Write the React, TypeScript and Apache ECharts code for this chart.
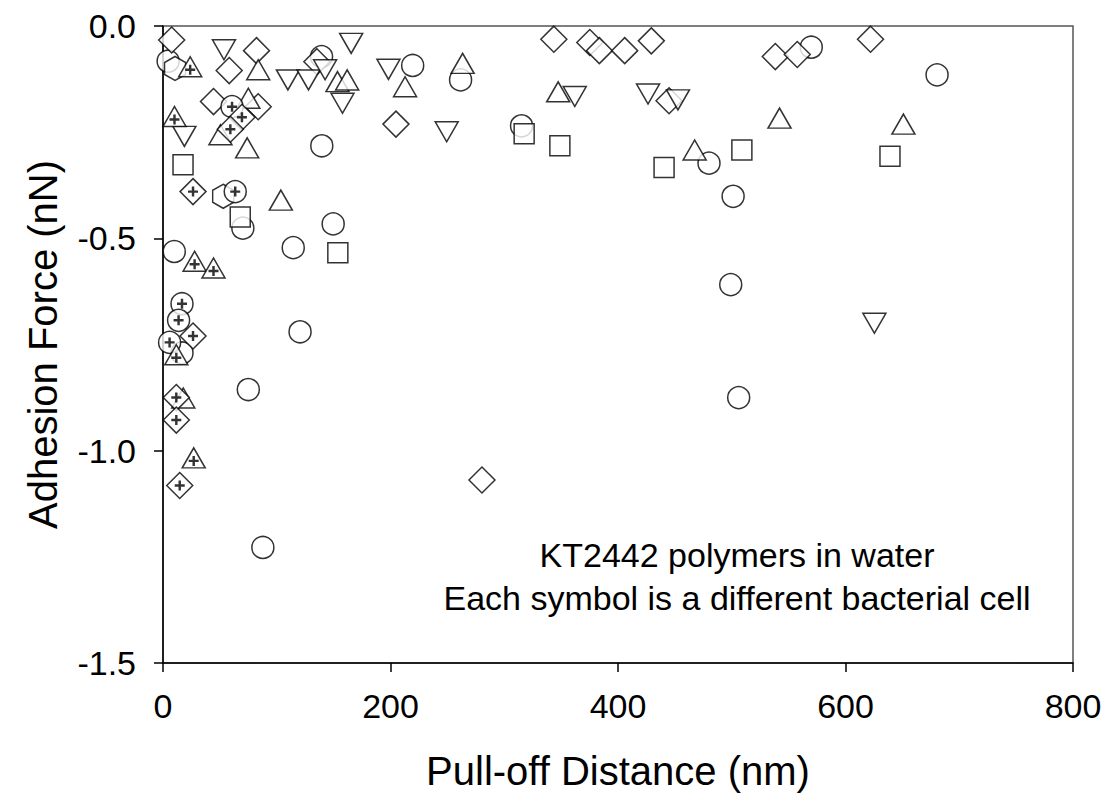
import React, { useEffect, useRef } from "react";
import * as echarts from "echarts";

// Each symbol is a different bacterial cell: [pull-off distance (nm), adhesion force (nN)]
const circleCell: number[][] = [
  [4.5, -0.083], [139.4, -0.072], [219.5, -0.093], [261.6, -0.127], [139.6, -0.282],
  [315.2, -0.235], [480.0, -0.323], [501.2, -0.401], [499.1, -0.609], [506.1, -0.875],
  [569.9, -0.05], [680.5, -0.115], [70.2, -0.476], [9.9, -0.531], [114.5, -0.522],
  [16.7, -0.77], [120.5, -0.72], [75.0, -0.856], [87.8, -1.228], [149.6, -0.466],
];
const diamondCell: number[][] = [
  [7.6, -0.033], [58.2, -0.105], [82.2, -0.058], [44.4, -0.178], [83.7, -0.19],
  [135.3, -0.084], [204.8, -0.231], [280.4, -1.069], [343.6, -0.031], [375.2, -0.039],
  [383.6, -0.058], [405.9, -0.058], [429.3, -0.035], [444.9, -0.176], [538.3, -0.072],
  [557.6, -0.067], [622.0, -0.031],
];
const triangleUpCell: number[][] = [
  [83.7, -0.103], [50.5, -0.256], [74.0, -0.287], [75.0, -0.17], [103.6, -0.41],
  [17.8, -0.876], [153.4, -0.131], [161.9, -0.127], [212.8, -0.143], [263.4, -0.088],
  [347.4, -0.155], [467.4, -0.292], [542.0, -0.217], [650.9, -0.231],
];
const triangleDownCell: number[][] = [
  [53.6, -0.056], [109.8, -0.127], [18.8, -0.26], [127.9, -0.127], [142.5, -0.103],
  [165.4, -0.041], [157.8, -0.182], [198.2, -0.102], [249.4, -0.249], [362.0, -0.166],
  [426.4, -0.16], [452.7, -0.174], [625.4, -0.7],
];
const squareCell: number[][] = [
  [17.6, -0.327], [67.9, -0.45], [153.7, -0.534], [317.5, -0.254], [348.9, -0.282],
  [440.5, -0.333], [508.9, -0.292], [639.1, -0.307],
];
const hexagonCell: number[][] = [[10.6, -0.1], [52.9, -0.401]];
const circlePlusCell: number[][] = [
  [60.7, -0.19], [63.5, -0.39], [16.7, -0.654], [13.7, -0.693], [5.8, -0.745],
];
const diamondPlusCell: number[][] = [
  [69.4, -0.215], [59.2, -0.243], [26.4, -0.39], [26.4, -0.73], [11.7, -0.875],
  [11.7, -0.928], [14.7, -1.082],
];
const trianglePlusCell: number[][] = [
  [23.9, -0.096], [10.1, -0.213], [27.8, -0.554], [44.4, -0.57], [11.7, -0.774], [27.0, -1.017],
];

const xTicks = [0, 200, 400, 600, 800];
const yTicks = [-1.5, -1.0, -0.5, 0.0];
const xTitle = "Pull-off Distance (nm)";
const yTitle = "Adhesion Force (nN)";
const noteLines = ["KT2442 polymers in water", "Each symbol is a different bacterial cell"];

const FONT = 'Arial, "Liberation Sans", Helvetica, sans-serif';
const HEX = "path://M0,-1L0.866,-0.5L0.866,0.5L0,1L-0.866,0.5L-0.866,-0.5Z";
const PLUS = "path://M-1.1,-4.5L1.1,-4.5L1.1,-1.1L4.5,-1.1L4.5,1.1L1.1,1.1L1.1,4.5L-1.1,4.5L-1.1,1.1L-4.5,1.1L-4.5,-1.1L-1.1,-1.1Z";

const open = { color: "#ffffff", borderColor: "#000000", borderWidth: 1.5 };

function shapeSeries(name: string, data: number[][], symbol: string, size: any, rotate = 0) {
  return {
    name, type: "scatter", data, symbol, symbolSize: size, symbolRotate: rotate,
    itemStyle: open, z: 3,
  };
}
function plusSeries(name: string, data: number[][], offset: number[] = [0, 0]) {
  return {
    name, type: "scatter", data, symbol: PLUS, symbolSize: 10, symbolOffset: offset,
    itemStyle: { color: "#000000", borderWidth: 0 }, z: 4,
  };
}

export default function App() {
  const ref = useRef<HTMLDivElement>(null);
  useEffect(() => {
    if (!ref.current) return;
    const chart = echarts.init(ref.current, null, { renderer: "svg" });
    chart.setOption({
      animation: false,
      backgroundColor: "#ffffff",
      grid: {
        left: 163, top: 26, right: 32, bottom: 136,
        containLabel: false, outerBoundsMode: "none",
        show: true, borderColor: "#555555", borderWidth: 1.5, backgroundColor: "transparent",
      },
      xAxis: {
        type: "value", min: xTicks[0], max: xTicks[xTicks.length - 1], interval: 200,
        name: xTitle, nameLocation: "middle", nameGap: 88,
        nameTextStyle: { fontSize: 40, color: "#000", fontFamily: FONT },
        axisLine: { show: true, onZero: false, lineStyle: { color: "#000", width: 1.5 } },
        axisTick: { show: true, inside: false, length: 9, lineStyle: { color: "#000", width: 1.5 } },
        axisLabel: { fontSize: 34, color: "#000", fontFamily: FONT, margin: 26 },
        splitLine: { show: false },
      },
      yAxis: {
        type: "value", min: yTicks[0], max: yTicks[yTicks.length - 1], interval: 0.5,
        name: yTitle, nameLocation: "middle", nameGap: 100, nameRotate: 90,
        nameTextStyle: { fontSize: 40, color: "#000", fontFamily: FONT },
        axisLine: { show: true, onZero: false, lineStyle: { color: "#000", width: 1.5 } },
        axisTick: { show: true, inside: false, length: 9, lineStyle: { color: "#000", width: 1.5 } },
        axisLabel: {
          fontSize: 34, color: "#000", fontFamily: FONT, margin: 27,
          formatter: (v: number) => v.toFixed(1),
        },
        splitLine: { show: false },
      },
      graphic: [
        {
          type: "text", x: 737, y: 533, z: 10,
          style: {
            text: noteLines.join("\n"), textAlign: "center", textVerticalAlign: "top",
            fontSize: 34, lineHeight: 43, fill: "#000", fontFamily: FONT,
          },
        },
      ],
      series: [
        shapeSeries("circle", circleCell, "circle", 22),
        shapeSeries("diamond", diamondCell, "diamond", 26),
        shapeSeries("triangleUp", triangleUpCell, "triangle", [23, 20]),
        shapeSeries("triangleDown", triangleDownCell, "triangle", [23, 20], 180),
        shapeSeries("square", squareCell, "rect", 20),
        shapeSeries("hexagon", hexagonCell, HEX, [21, 24]),
        shapeSeries("circlePlus", circlePlusCell, "circle", 22),
        shapeSeries("diamondPlus", diamondPlusCell, "diamond", 26),
        shapeSeries("trianglePlus", trianglePlusCell, "triangle", [23, 20]),
        plusSeries("circlePlusMark", circlePlusCell),
        plusSeries("diamondPlusMark", diamondPlusCell),
        plusSeries("trianglePlusMark", trianglePlusCell, [0, 3]),
      ],
    });
    return () => chart.dispose();
  }, []);
  return (
    <div
      ref={ref}
      style={{ position: "fixed", left: 0, top: 0, width: 1105, height: 799, background: "#fff" }}
    />
  );
}
